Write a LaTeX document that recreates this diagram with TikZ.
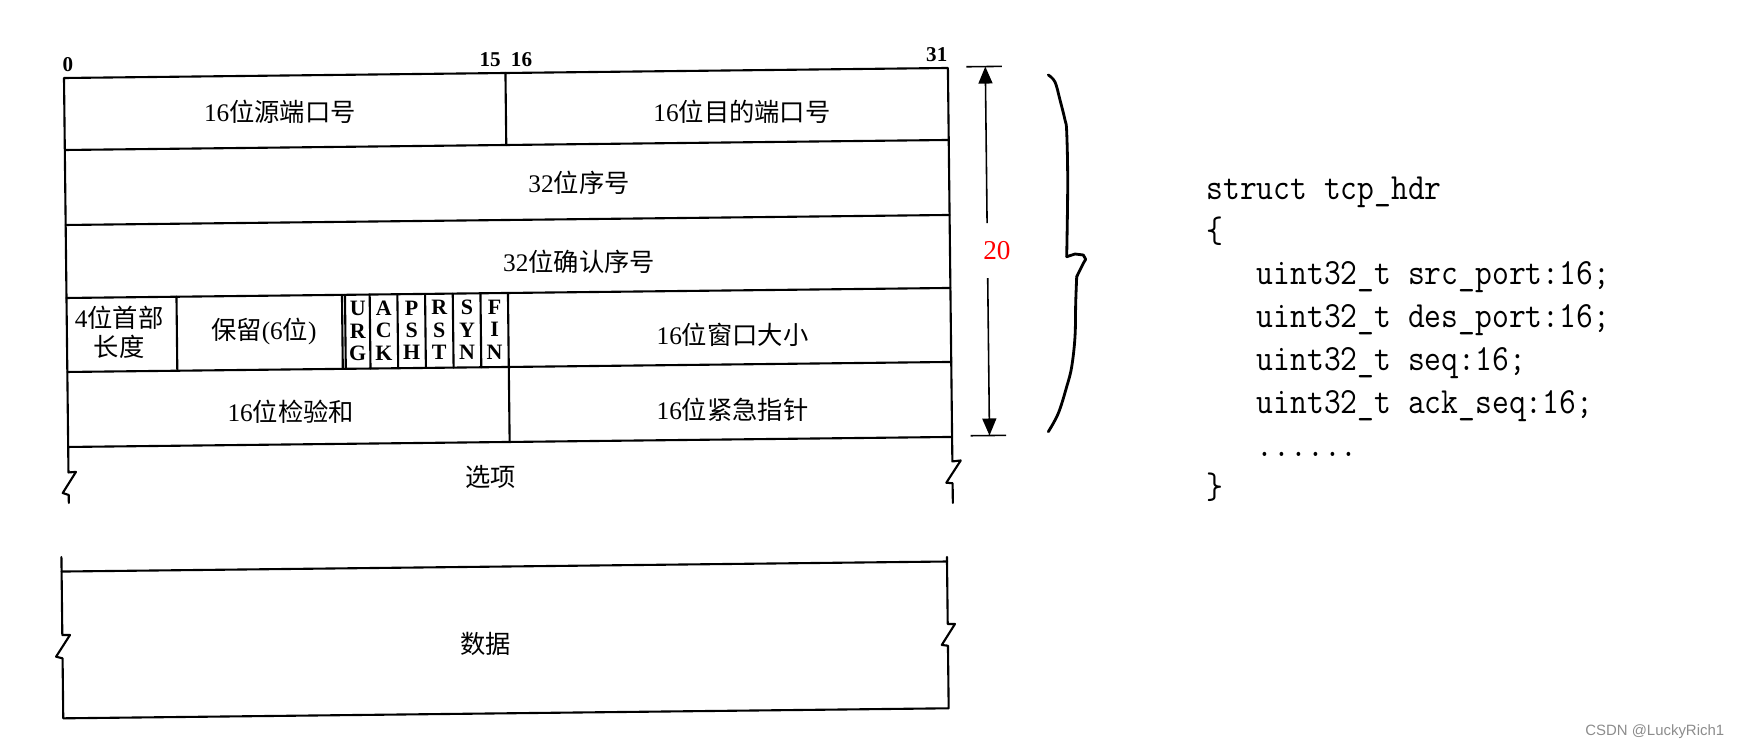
\documentclass[tikz,border=0pt]{standalone}
\usepackage{fontspec}
\setmainfont{Liberation Serif}
\newfontfamily\cjk{Noto Sans CJK SC}
\newfontfamily\wmfont{Liberation Sans}
\setmonofont{Latin Modern Mono}[FakeStretch=0.885]
\usetikzlibrary{arrows.meta}
\newcommand\zh[1]{{\cjk #1}}

\begin{document}
\begin{tikzpicture}[x=0.02cm,y=-0.02cm,
  tbl/.style={line width=1.2pt, line cap=round, line join=round},
  celltext/.style={inner sep=0pt, font={\fontsize{14.4pt}{16.4pt}\selectfont}},
  bitnum/.style={inner sep=0pt, font={\fontsize{12pt}{12pt}\selectfont\bfseries}},
  flagtxt/.style={inner sep=0pt, align=center, font={\fontsize{12.5pt}{12.75pt}\selectfont\bfseries}},
  dimline/.style={line width=0.9pt},
  dimtip/.style={-{Triangle[length=0.34cm,width=0.28cm]}},
  codeline/.style={anchor=base west, inner sep=0pt, font={\fontsize{21pt}{24pt}\selectfont\ttfamily}},
  bracepen/.style={line width=1.6pt, line cap=round, line join=round},
]
\useasboundingbox (0,0) rectangle (1740,747);

\begin{scope}[rotate around={0.65:(64,78)}]
  % header outline with break marks
  \draw[tbl] (64,503) -- (64,495) -- (58,493) -- (71.5,472) -- (64,472.5)
    -- (64,78) -- (948,78) -- (948,471.5) -- (956.4,470.6) -- (941.7,492.7)
    -- (948,493.3) -- (948,513);
  \foreach \yy in {150,225,298,372,447}
    \draw[tbl] (64,\yy) -- (948,\yy);
  \draw[tbl] (505.5,78) -- (505.5,150);
  \draw[tbl] (505.5,372) -- (505.5,447);
  \foreach \xx in {174,339.5,342.5,367.2,394.9,422.6,450.3,478,505.5}
    \draw[tbl] (\xx,298) -- (\xx,372);

  % data block
  \draw[tbl] (56,557) -- (56,635) -- (63.7,635) -- (49.5,656.6) -- (56,658.3)
    -- (56,718.3) -- (941.5,718.3) -- (941.5,655.7) -- (935.3,654.9)
    -- (948.8,634) -- (941.5,634) -- (941.5,567);
  \draw[tbl] (56,571.5) -- (941.5,571.5);

  % bit numbers
  \node[bitnum] (b0) at (68,65) {0};
  \node[bitnum] (b15) at (490.3,64.8) {15};
  \node[bitnum] (b16) at (521.7,65.2) {16};
  \node[bitnum] (b31) at (937,64.9) {31};

  % fields
  \node[celltext] (srcport) at (279.6,114.4) {16\zh{位源端口号}};
  \node[celltext] (dstport) at (741.6,119.4) {16\zh{位目的端口号}};
  \node[celltext] (seqno) at (577.8,188.8) {32\zh{位序号}};
  \node[celltext] (ackno) at (577,267.8) {32\zh{位确认序号}};
  \node[celltext, align=center] (hlen) at (116.3,333.1) {4\zh{位首部}\\\zh{长度}};
  \node[celltext] (rsv) at (261,334) {\zh{保留}(6\zh{位})};
  \node[flagtxt] (fURG) at (354.9,334.3) {U\\R\\G};
  \node[flagtxt] (fACK) at (381.05,334.3) {A\\C\\K};
  \node[flagtxt] (fPSH) at (408.75,334.3) {P\\S\\H};
  \node[flagtxt] (fRST) at (436.45,334.3) {R\\S\\T};
  \node[flagtxt] (fSYN) at (464.15,334.3) {S\\Y\\N};
  \node[flagtxt] (fFIN) at (491.75,334.3) {F\\I\\N};
  \node[celltext] (win) at (729.6,342.6) {16\zh{位窗口大小}};
  \node[celltext] (csum) at (287,414.6) {16\zh{位检验和}};
  \node[celltext] (urgp) at (728.8,417.5) {16\zh{位紧急指针}};
  \node[celltext] (opt) at (486.3,481.6) {\zh{选项}};
  \node[celltext] (dat) at (479.1,648.3) {\zh{数据}};

  % dimension 20
  \coordinate (dimtop) at (985.5,77);
  \coordinate (dimbot) at (985.5,446);
  \coordinate (gapup) at (985.5,233.7);
  \coordinate (gapdn) at (985.5,288.7);
  \draw[dimline] (966.5,77) -- (1002,77);
  \draw[dimline] (966.5,446) -- (1002,446);
  \node[inner sep=0pt, text=red, font={\fontsize{15.5pt}{16pt}\selectfont}] (twenty) at (994.9,261) {20};
  \draw[dimline, dimtip] (gapup) -- (dimtop);
  \draw[dimline, dimtip] (gapdn) -- (dimbot);
\end{scope}

% hand-drawn brace
\draw[bracepen] plot[smooth, tension=0.6] coordinates {(1048.3,75) (1055,82) (1060,100) (1065,120) (1066.7,132) (1067.7,183) (1066.7,256.7)};
\draw[bracepen] (1066.7,256.7) -- (1075,254) -- (1083.3,255) -- (1085.7,259.3) -- (1083.3,263.3) -- (1076.7,276.7);
\draw[bracepen] plot[smooth, tension=0.6] coordinates {(1076.7,276.7) (1075.7,303) (1075,336.7) (1071.7,366.7) (1066.7,386.7) (1058.3,413.3) (1048.3,431.7)};

% code
\node[codeline] (c1) at (1206,199.3) {struct tcp\_hdr};
\node[codeline] (c2) at (1206,242.1) {\{};
\node[codeline] (c3) at (1206,284.9) {\hphantom{xxx}uint32\_t src\_port:16;};
\node[codeline] (c4) at (1206,327.7) {\hphantom{xxx}uint32\_t des\_port:16;};
\node[codeline] (c5) at (1206,370.5) {\hphantom{xxx}uint32\_t seq:16;};
\node[codeline] (c6) at (1206,413.3) {\hphantom{xxx}uint32\_t ack\_seq:16;};
\node[codeline] (c7) at (1206,456.1) {\hphantom{xxx}......};
\node[codeline] (c8) at (1206,498.9) {\}};

% watermark
\node[anchor=base west, inner sep=0pt, font={\wmfont\fontsize{8.5pt}{10pt}\selectfont}, text=black!45] (wm) at (1585,735) {CSDN @LuckyRich1};
\end{tikzpicture}
\end{document}
